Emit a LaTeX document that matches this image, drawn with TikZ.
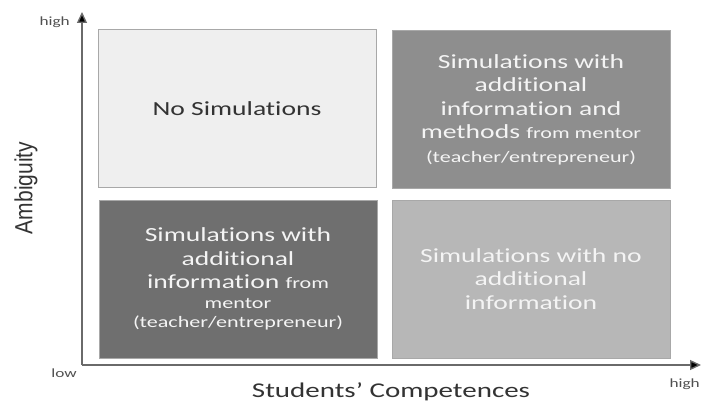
\documentclass[tikz,border=0pt]{standalone}
\usepackage{fontspec}
\setmainfont{Carlito}[FakeStretch=1.38, Ligatures=NoCommon]
\newfontfamily\axisfont{Liberation Sans}
\usetikzlibrary{arrows.meta}

\definecolor{cellA}{HTML}{EFEFEF}
\definecolor{cellB}{HTML}{8E8E8E}
\definecolor{cellC}{HTML}{6F6F6F}
\definecolor{cellD}{HTML}{B7B7B7}
\definecolor{cellline}{HTML}{A8A8A8}
\definecolor{darktext}{HTML}{333333}
\definecolor{lighttext}{HTML}{F4F4F4}
\definecolor{axisline}{HTML}{6A6A6A}
\definecolor{ticktext}{HTML}{505050}

\tikzset{
  cell/.style={draw=cellline, line width=0.8pt, minimum width=278pt,
    minimum height=158pt, inner sep=0pt, align=center,
    font=\fontsize{20}{23.5}\selectfont},
  axis/.style={draw=axisline, line width=1.4pt,
    -{Triangle[length=11pt,width=10pt,fill=black]}},
  ticklabel/.style={text=ticktext, font=\fontsize{12.5}{14}\selectfont, inner sep=0pt},
  axistitle/.style={text=darktext, inner sep=0pt}
}
\newcommand{\smalltxt}[1]{{\fontsize{16}{19}\selectfont #1}}

\begin{document}
\begin{tikzpicture}[x=1pt, y=-1pt]
  \useasboundingbox[fill=white] (0,0) rectangle (701,403);

  % axes
  \coordinate (origin) at (82,365);
  \coordinate (ytip) at (82,12);
  \coordinate (xtip) at (701,365);
  \draw[axis] (origin) -- (ytip);
  \draw[axis] (origin) -- (xtip);

  % four quadrants
  \node[cell, fill=cellA, text=darktext] (nw) at (237,108.5) {No Simulations};
  \node[cell, fill=cellB, text=lighttext] (ne) at (531,109.5)
    {Simulations with\\ additional\\ information and\\
     methods \smalltxt{from mentor}\\ \smalltxt{(teacher/entrepreneur)}};
  \node[cell, fill=cellC, text=lighttext] (sw) at (238,279)
    {Simulations with\\ additional\\ information \smalltxt{from}\\[-4pt]
     \smalltxt{mentor}\\[-4pt] \smalltxt{(teacher/entrepreneur)}};
  \node[cell, fill=cellD, text=lighttext] (se) at (531,279)
    {Simulations with no\\ additional\\ information};

  % axis labels
  \node[ticklabel, anchor=east] (yhigh) at (70,22) {high};
  \node[ticklabel, anchor=east] (xlow) at (77,373) {low};
  \node[ticklabel, anchor=east] (xhigh) at (700,384) {high};
  \node[axistitle, rotate=90, font=\axisfont\fontsize{21}{24}\selectfont] (ytitle) at (26,188)
    {\scalebox{1}[1.18]{Ambiguity}};
  \node[axistitle, font=\fontsize{21}{24}\selectfont] (xtitle) at (391,392)
    {Students’ Competences};
\end{tikzpicture}
\end{document}
